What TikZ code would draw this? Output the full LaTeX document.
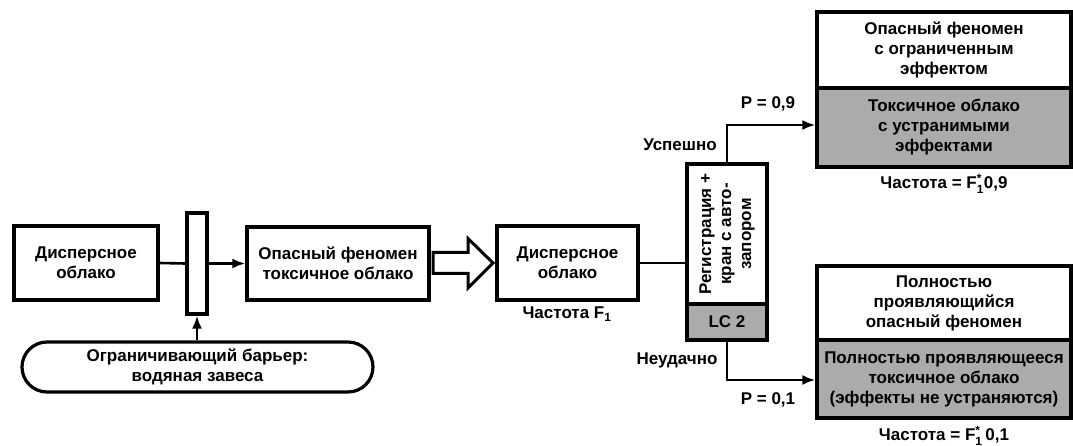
\documentclass[tikz,border=0pt]{standalone}
\usepackage{amsmath}
\usepackage{fontspec}
\setmainfont{Liberation Sans}
\usetikzlibrary{arrows.meta}
\newcommand\Fone{F\textsubscript{1}}
\newcommand\Fst{F$^{\text{*}}_{\text{1}}$}
\definecolor{boxgray}{HTML}{ABABAB}
\tikzset{
  txt/.style={font=\fontsize{17}{20}\selectfont\bfseries, align=center, inner sep=0pt},
  box/.style={txt, draw, line width=3.2pt, minimum width=#1, fill=white},
  gbox/.style={txt, draw, line width=3.2pt, minimum width=#1, fill=boxgray},
  conn/.style={line width=2.6pt},
  arr/.style={conn, -{Latex[length=13pt,width=10pt]}},
  lbl/.style={txt}
}
\begin{document}
\begin{tikzpicture}[x=1pt,y=-1pt]
\useasboundingbox (0,0) rectangle (1073,446);
% left chain
\node[box=144pt, minimum height=74pt] (b1) at (86,263) {Дисперсное\\облако};
\node[box=20pt, minimum height=101pt] (bar) at (197,263.5) {};
\node[box=182pt, minimum height=73pt] (b2) at (338,263.5) {Опасный феномен\\токсичное облако};
\node[box=351pt, minimum height=50pt, rounded corners=25pt] (rb) at (197.5,367) {Ограничивающий барьер:\\водяная завеса};
\draw[conn] (b1.east) -- (bar.west);
\draw[arr] (bar.east) -- (b2.west);
\draw[arr] (rb.north -| bar.south) -- (bar.south);
% block arrow
\coordinate (ba) at (433,263);
\draw[line width=3pt, fill=white, line join=miter] (ba) ++(0,-10.5) -- ++(35,0) -- ++(0,-14) -- (493,263) -- (468,288) -- ++(0,-14.5) -- ++(-35,0) -- cycle;
% middle
\node[box=141pt, minimum height=74pt] (b3) at (567.5,263) {Дисперсное\\облако};
\node[lbl, anchor=north] (f1) at (567,307) {Частота \Fone};
\node[box=80pt, minimum height=140pt] (lc) at (727,234) {};
\node[txt, rotate=90] (lct) at (lc) {Регистрация +\\кран с авто-\\запором};
\node[gbox=80pt, minimum height=36pt] (lcg) at (727,322) {LC 2};
\draw[conn] (b3.east) -- (b3.east -| lc.west);
% right boxes
\node[box=254pt, minimum height=76pt] (tw) at (944,50) {Опасный феномен\\с ограниченным\\эффектом};
\node[gbox=254pt, minimum height=79pt] (tg) at (944,127.5) {Токсичное облако\\с устранимыми\\эффектами};
\node[lbl] (f2) at (944,184) {Частота = \Fst0,9};
\node[box=254pt, minimum height=74pt] (bw) at (944,303) {Полностью\\проявляющийся\\опасный феномен};
\node[gbox=254pt, minimum height=78pt] (bg) at (944,379) {Полностью проявляющееся\\токсичное облако\\(эффекты не устраняются)};
\node[lbl] (f3) at (944,436) {Частота = \Fst\,0,1};
% branches
\coordinate (tc) at (727,125);
\coordinate (bc) at (727,380);
\draw[arr] (lc.north) -- (tc) -- (tc -| tg.west);
\draw[arr] (lcg.south) -- (bc) -- (bc -| bg.west);
\node[lbl] (ok) at (680,145) {Успешно};
\node[lbl] (p9) at (768,104) {P = 0,9};
\node[lbl] (fail) at (677,360) {Неудачно};
\node[lbl] (p1) at (768,400) {P = 0,1};
\end{tikzpicture}
\end{document}
